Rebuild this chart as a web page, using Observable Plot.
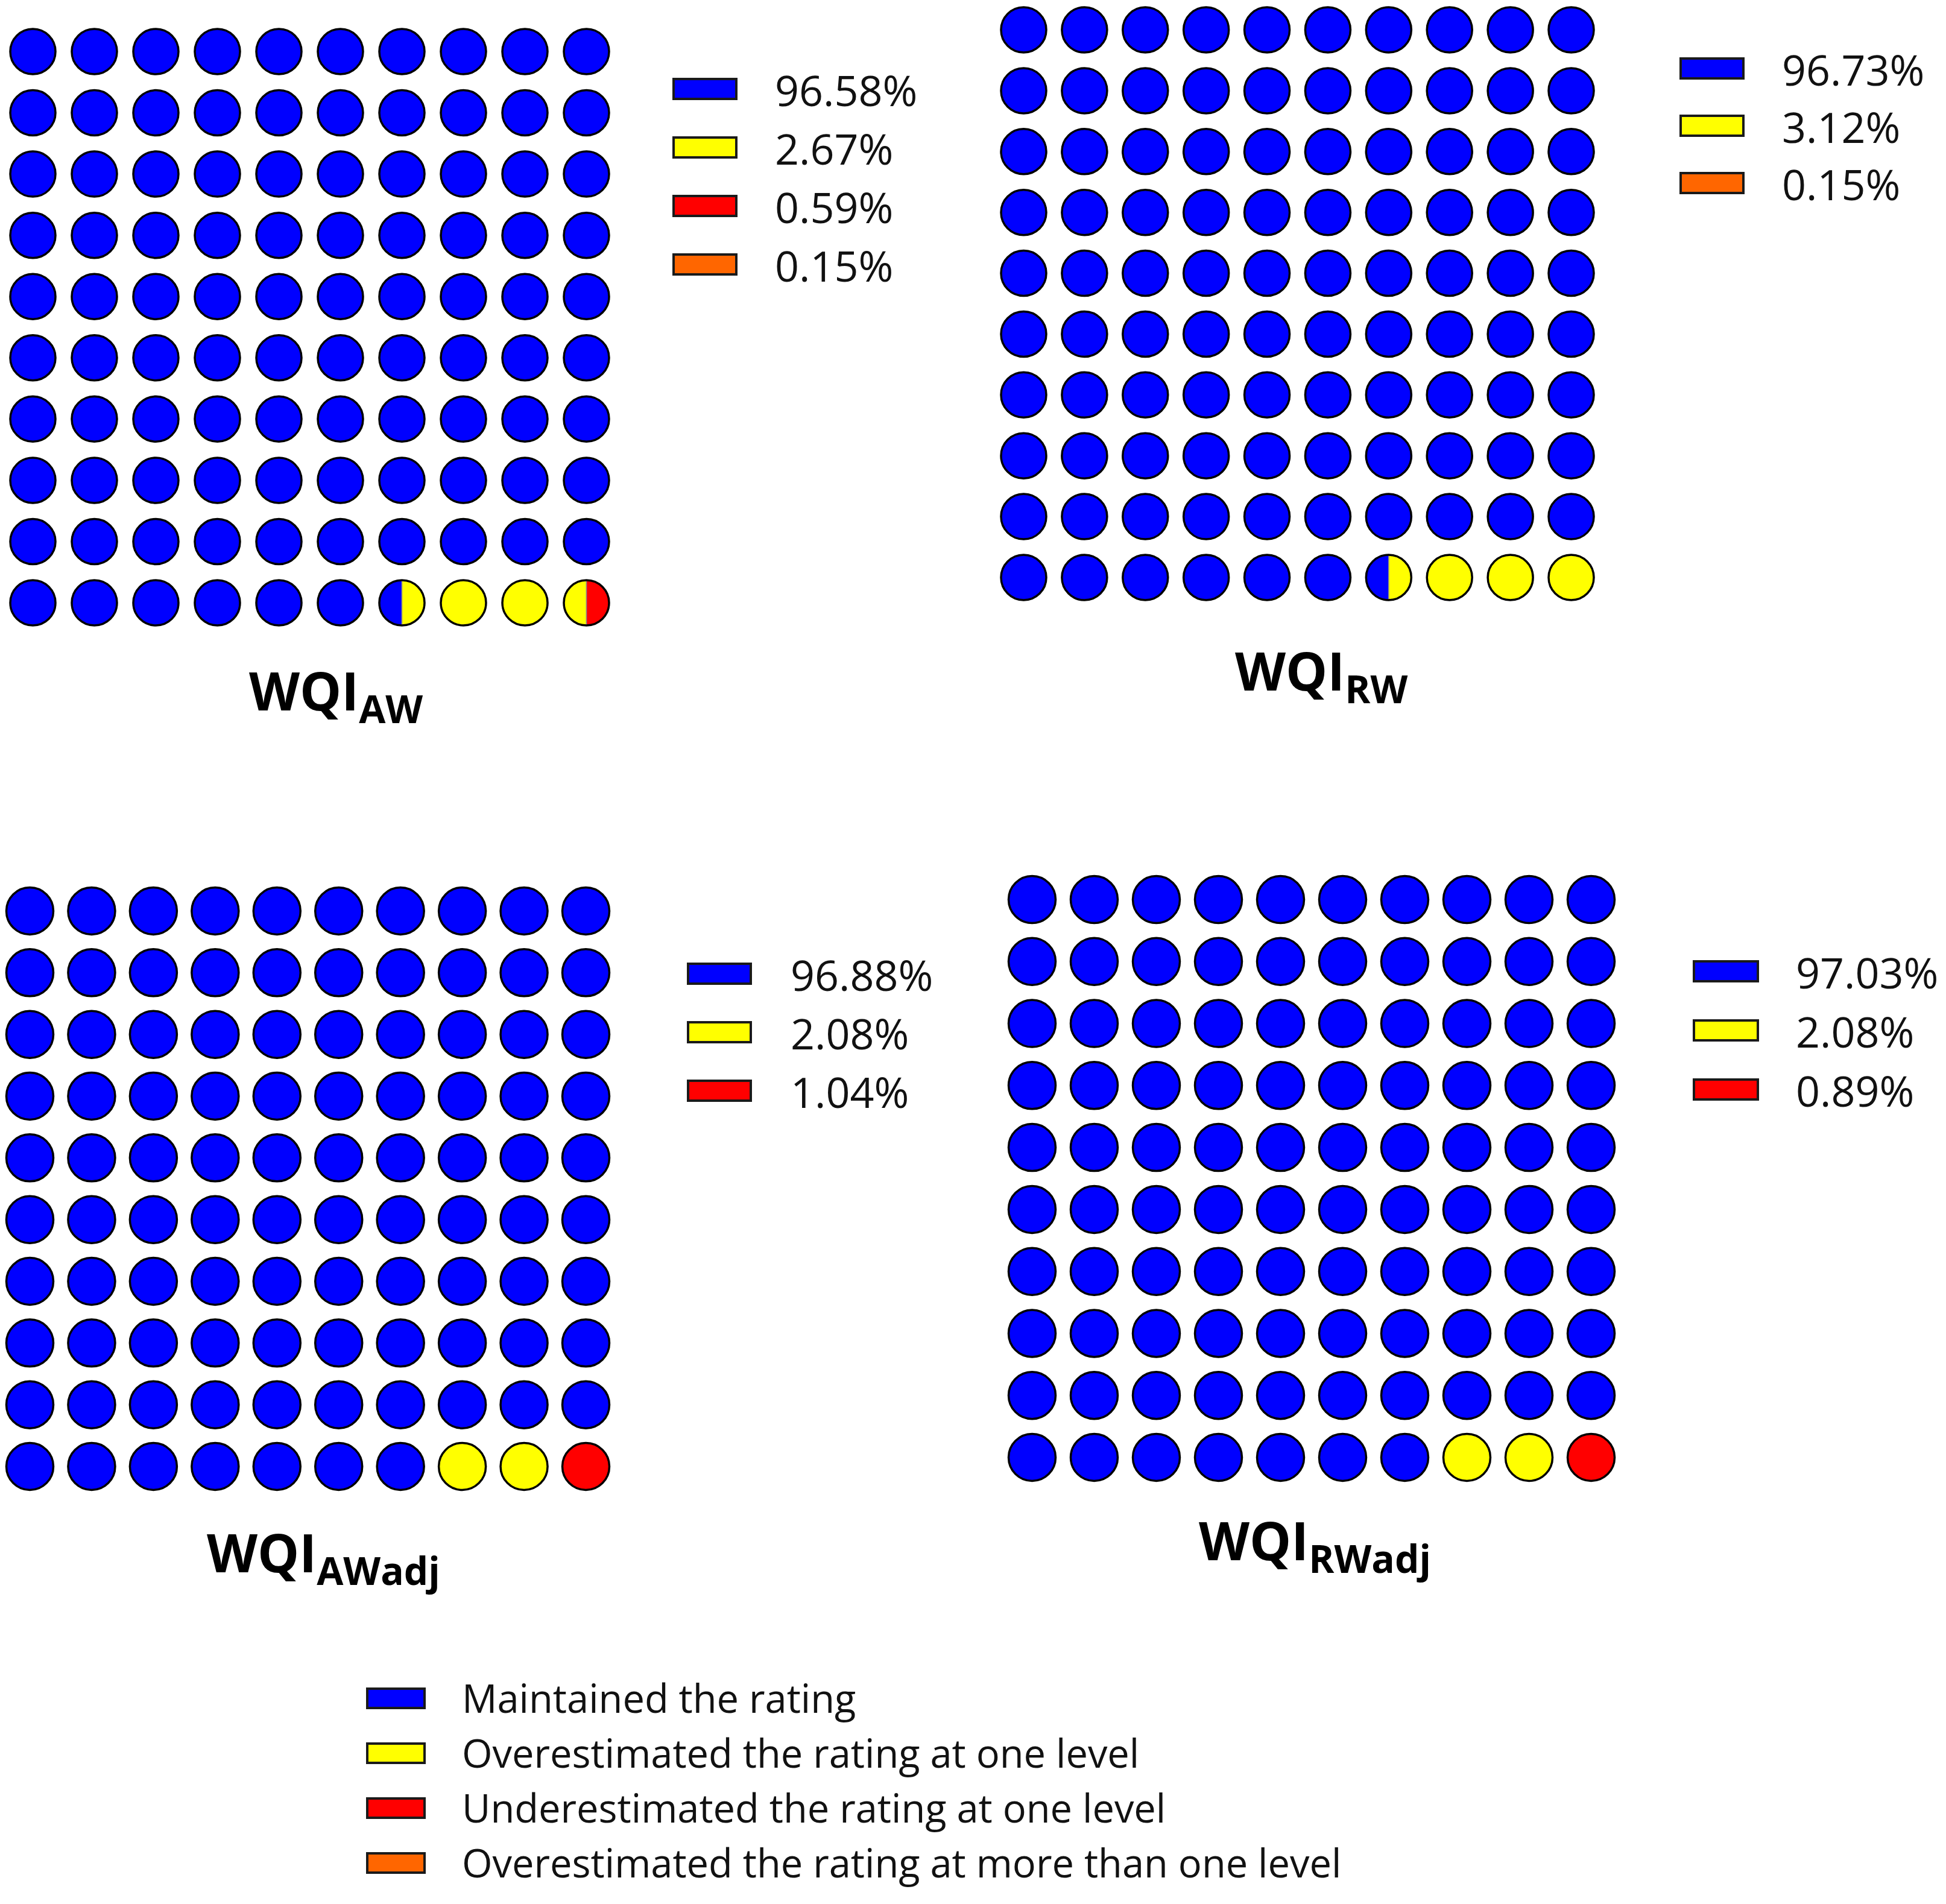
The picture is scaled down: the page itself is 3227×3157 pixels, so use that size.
<!DOCTYPE html>
<html>
<head>
<meta charset="utf-8">
<script src="https://cdn.jsdelivr.net/npm/d3@7"></script>
<script src="https://cdn.jsdelivr.net/npm/@observablehq/plot@0.6"></script>
<style>
  html, body { margin: 0; padding: 0; background: #fff; }
  #page { position: relative; width: 3227px; height: 3157px; background: #fff; overflow: hidden;
          font-family: "Open Sans", "Noto Sans", sans-serif; color: #111; }
  .abs { position: absolute; white-space: nowrap; }
  .sw { position: absolute; box-sizing: border-box; border: 4px solid #1a1a1a; }
  .pct { font-size: 70px; line-height: 70px; }
  .key { font-size: 65px; line-height: 65px; }
  .ttl { font-weight: 700; font-size: 87px; line-height: 87px; color: #000; }
  .ttl span { font-size: 64px; line-height: 64px; vertical-align: -21px; }
</style>
</head>
<body>
<div id="page"></div>
<script>
// ---------------- data ----------------
const categories = [
  "Maintained the rating",
  "Overestimated the rating at one level",
  "Underestimated the rating at one level",
  "Overestimated the rating at more than one level"
];
const categoryColors = ["#0000ff", "#ffff00", "#ff0000", "#ff6600"];

// WQI_AW
const awCategories = [categories[0], categories[1], categories[2], categories[3]];
const awPercent = [96.58, 2.67, 0.59, 0.15];
const awHalfCircles = [193, 6, 1, 0];   // half-circles of the 10x10 waffle

// WQI_RW
const rwCategories = [categories[0], categories[1], categories[3]];
const rwPercent = [96.73, 3.12, 0.15];
const rwHalfCircles = [193, 7, 0];

// WQI_AWadj
const awAdjCategories = [categories[0], categories[1], categories[2]];
const awAdjPercent = [96.88, 2.08, 1.04];
const awAdjHalfCircles = [194, 4, 2];

// WQI_RWadj
const rwAdjCategories = [categories[0], categories[1], categories[2]];
const rwAdjPercent = [97.03, 2.08, 0.89];
const rwAdjHalfCircles = [194, 4, 2];

// ---------------- layout ----------------
const page = document.getElementById("page");
const colorOf = c => categoryColors[categories.indexOf(c)];

const halfLeft = { draw(ctx, size) { const r = Math.sqrt(size / Math.PI);
  ctx.moveTo(0, -r); ctx.arc(0, 0, r, -Math.PI / 2, Math.PI / 2, true); ctx.closePath(); } };
const halfRight = { draw(ctx, size) { const r = Math.sqrt(size / Math.PI);
  ctx.moveTo(0, -r); ctx.arc(0, 0, r, -Math.PI / 2, Math.PI / 2, false); ctx.closePath(); } };

function waffle(cats, halfCounts, g) {
  const halves = [];
  let k = 0;
  cats.forEach((c, i) => {
    for (let n = 0; n < halfCounts[i]; n++, k++) {
      const cell = Math.floor(k / 2);
      halves.push({ cat: c, cell, col: cell % 10, row: Math.floor(cell / 10), side: k % 2 });
    }
  });
  const byCell = d3.group(halves, d => d.cell);
  const full = [], split = [];
  for (const [cell, hs] of byCell) {
    if (hs.length === 2 && hs[0].cat === hs[1].cat) full.push({ cat: hs[0].cat, col: hs[0].col, row: hs[0].row });
    else split.push(...hs);
  }
  const cells = Array.from(byCell.values(), hs => ({ col: hs[0].col, row: hs[0].row }));
  const pad = 50;
  const W = Math.round(g.dx * 9 + 2 * pad), H = Math.round(g.dy * 9 + 2 * pad);
  const svg = Plot.plot({
    width: W, height: H, margin: 0,
    style: { background: "transparent", overflow: "visible" },
    x: { type: "linear", domain: [0, 9], range: [pad, W - pad], axis: null },
    y: { type: "linear", domain: [0, 9], range: [pad, H - pad], axis: null },
    color: { domain: categories, range: categoryColors },
    marks: [
      Plot.dot(full, { x: "col", y: "row", r: g.r, fill: "cat" }),
      Plot.dot(split.filter(d => d.side === 0), { x: "col", y: "row", r: g.r, symbol: halfLeft, fill: "cat", stroke: "#8a8a8a", strokeWidth: 1.5 }),
      Plot.dot(split.filter(d => d.side === 1), { x: "col", y: "row", r: g.r, symbol: halfRight, fill: "cat", stroke: "#8a8a8a", strokeWidth: 1.5 }),
      Plot.dot(cells, { x: "col", y: "row", r: g.r, fill: "none", stroke: "#000", strokeWidth: 3.5 })
    ]
  });
  const wrap = document.createElement("div");
  wrap.className = "abs";
  wrap.style.left = (g.x0 - pad) + "px";
  wrap.style.top = (g.y0 - pad) + "px";
  wrap.style.width = W + "px";
  wrap.style.height = H + "px";
  wrap.appendChild(svg);
  page.appendChild(wrap);
}

function legend(cats, labels, g, cls, textOffset) {
  cats.forEach((c, i) => {
    const cy = g.y0 + i * g.dy;
    const sw = document.createElement("div");
    sw.className = "sw";
    sw.style.left = g.rectX + "px";
    sw.style.top = (cy - g.h / 2) + "px";
    sw.style.width = g.w + "px";
    sw.style.height = g.h + "px";
    sw.style.background = colorOf(c);
    page.appendChild(sw);
    const t = document.createElement("div");
    t.className = "abs " + cls;
    t.style.left = g.textX + "px";
    t.style.top = (cy + textOffset) + "px";
    t.textContent = labels[i];
    page.appendChild(t);
  });
}

function title(sub, left, baseline) {
  const t = document.createElement("div");
  t.className = "abs ttl";
  t.style.left = left + "px";
  t.style.top = (baseline - 77) + "px";
  t.innerHTML = "WQI<span>" + sub + "</span>";
  page.appendChild(t);
}

const fmt = v => v.toFixed(2) + "%";

// panels
waffle(awCategories, awHalfCircles, { x0: 54, dx: 102, y0: 85, dy: 101.5, r: 37.5 });
waffle(rwCategories, rwHalfCircles, { x0: 1697, dx: 100.9, y0: 49, dy: 100.9, r: 37.5 });
waffle(awAdjCategories, awAdjHalfCircles, { x0: 49, dx: 102.4, y0: 1510, dy: 102.3, r: 39 });
waffle(rwAdjCategories, rwAdjHalfCircles, { x0: 1711, dx: 103, y0: 1491, dy: 102.8, r: 39 });

// per-panel legends
legend(awCategories, awPercent.map(fmt), { rectX: 1115, textX: 1285, y0: 147, dy: 97, w: 108, h: 37 }, "pct", -33);
legend(rwCategories, rwPercent.map(fmt), { rectX: 2785, textX: 2955, y0: 113, dy: 95, w: 108, h: 37 }, "pct", -33);
legend(awAdjCategories, awAdjPercent.map(fmt), { rectX: 1139, textX: 1311, y0: 1614, dy: 97, w: 108, h: 37 }, "pct", -33);
legend(rwAdjCategories, rwAdjPercent.map(fmt), { rectX: 2807, textX: 2978, y0: 1610, dy: 98, w: 110, h: 37 }, "pct", -33);

// titles
title("AW", 413, 1178);
title("RW", 2048, 1145);
title("AWadj", 343, 2607);
title("RWadj", 1988, 2587);

// shared legend
legend(categories, categories, { rectX: 607, textX: 766, y0: 2816, dy: 91, w: 99, h: 36 }, "key", -33);
</script>
</body>
</html>
